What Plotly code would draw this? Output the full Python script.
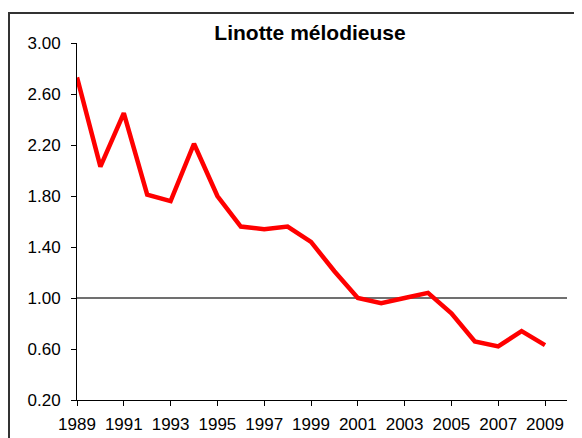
import plotly.graph_objects as go

years = list(range(1989, 2010))
values = [2.73, 2.03, 2.45, 1.81, 1.76, 2.21, 1.80, 1.56, 1.54, 1.56, 1.44,
          1.21, 1.00, 0.96, 1.00, 1.04, 0.88, 0.66, 0.62, 0.74, 0.63]
y_ticks = [0.20, 0.60, 1.00, 1.40, 1.80, 2.20, 2.60, 3.00]
x_ticks = list(range(1989, 2010, 2))
reference_level = 1.00
title_text = "Linotte mélodieuse"

W, H = 582, 438
# the page body adds an 8px offset; margins compensate for it
L, R, T, B = 69, 23, 35, 46

fig = go.Figure()
fig.add_trace(go.Scatter(
    x=years, y=values, mode="lines",
    line=dict(color="#ff0000", width=4.5),
    showlegend=False, hoverinfo="skip",
))

fig.add_shape(type="line", xref="paper", yref="y", x0=0, x1=1,
              y0=reference_level, y1=reference_level,
              line=dict(color="#404040", width=1.3), layer="below")

# outer chart border (partially off-canvas right/bottom)
pw = W - L - R
ph = H - T - B
fig.add_shape(type="rect", xref="paper", yref="paper",
              x0=(1 - L) / pw, x1=(W + 10 - L) / pw,
              y0=-(H + 10 - (H - B)) / ph, y1=(H - B - 5) / ph,
              line=dict(color="#333333", width=2), layer="below")

font = "Liberation Sans, Arial, sans-serif"
fig.update_layout(
    width=W, height=H,
    margin=dict(l=L, r=R, t=T, b=B, pad=0, autoexpand=False),
    paper_bgcolor="white", plot_bgcolor="white",
    title=dict(text="<b>" + title_text + "</b>", x=302 / W, xanchor="center",
               y=1 - 25 / H, yanchor="middle",
               font=dict(family=font, size=21, color="black")),
    xaxis=dict(range=[1989, 2009 + 22 / 23.4], tickvals=x_ticks,
               ticktext=[str(v) for v in x_ticks], automargin=False,
               showgrid=False, zeroline=False, showline=True,
               linecolor="black", linewidth=1, ticks="outside",
               ticklen=5, tickcolor="black", ticklabelstandoff=4,
               tickfont=dict(family=font, size=17, color="black")),
    yaxis=dict(range=[0.2, 3.0], tickvals=y_ticks,
               ticktext=[f"{v:.2f}" for v in y_ticks], automargin=False,
               showgrid=False, zeroline=False, showline=True,
               linecolor="black", linewidth=1, ticks="outside",
               ticklen=5, tickcolor="black", ticklabelstandoff=7,
               tickfont=dict(family=font, size=17, color="black")),
)

fig.write_html("out.html")
